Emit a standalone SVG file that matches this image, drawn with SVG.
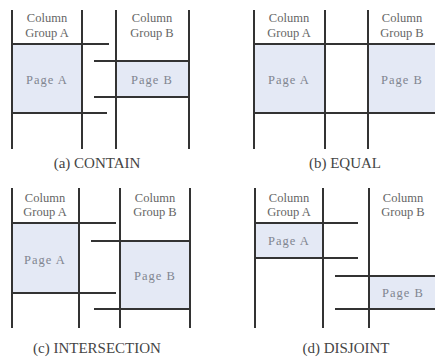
<svg xmlns="http://www.w3.org/2000/svg" width="435" height="361" viewBox="0 0 435 361">
<style>
.ln{stroke:#333;stroke-width:2;fill:none}
.pg{fill:#e4e9f5}
.hd{font-family:'Liberation Serif','Times New Roman',serif;font-size:12.5px;fill:#666;text-anchor:middle}
.pt{font-family:'Liberation Serif','Times New Roman',serif;font-size:12.5px;fill:#808590;text-anchor:middle;letter-spacing:1px}
.cap{font-family:'Liberation Serif','Times New Roman',serif;font-size:15px;fill:#444;text-anchor:middle}
</style>
<rect width="435" height="361" fill="#fff"/>
<g id="panel-a">
<g id="a-pageA"><rect class="pg" x="12" y="44" width="70" height="69"/><text class="pt" x="47" y="84">Page  A</text></g>
<g id="a-pageB"><rect class="pg" x="116" y="61" width="73" height="36"/><text class="pt" x="152" y="84">Page  B</text></g>
<g id="a-groupA"><text class="hd" x="47" y="22">Column</text><text class="hd" x="47" y="37">Group A</text></g>
<g id="a-groupB"><text class="hd" x="152" y="22">Column</text><text class="hd" x="152" y="37">Group B</text></g>
<g id="a-lines">
<path class="ln" d="M12 10V149M82 10V149M116 10V149M189 10V149M12 44H109M94 61H189M94 97H189M12 113H107"/>
</g>
<text class="cap" x="97" y="168">(a) CONTAIN</text>
</g>
<g id="panel-b">
<g id="b-pageA"><rect class="pg" x="254" y="44" width="71" height="69"/><text class="pt" x="289" y="84">Page  A</text></g>
<g id="b-pageB"><rect class="pg" x="368" y="44" width="67" height="69"/><text class="pt" x="402" y="84">Page  B</text></g>
<g id="b-groupA"><text class="hd" x="289" y="22">Column</text><text class="hd" x="289" y="37">Group A</text></g>
<g id="b-groupB"><text class="hd" x="402" y="22">Column</text><text class="hd" x="402" y="37">Group B</text></g>
<g id="b-lines">
<path class="ln" d="M254 10V149M325 10V149M368 10V149M254 44H435M254 113H435"/>
</g>
<text class="cap" x="345" y="168">(b) EQUAL</text>
</g>
<g id="panel-c">
<g id="c-pageA"><rect class="pg" x="12" y="223" width="67" height="70"/><text class="pt" x="45" y="264">Page  A</text></g>
<g id="c-pageB"><rect class="pg" x="120" y="241" width="70" height="68"/><text class="pt" x="155" y="280">Page  B</text></g>
<g id="c-groupA"><text class="hd" x="45" y="202">Column</text><text class="hd" x="45" y="216">Group A</text></g>
<g id="c-groupB"><text class="hd" x="155" y="202">Column</text><text class="hd" x="155" y="216">Group B</text></g>
<g id="c-lines">
<path class="ln" d="M12 188V328M79 188V328M120 188V328M190 188V328M12 223H116M91 241H190M12 293H116M94 309H190"/>
</g>
<text class="cap" x="97" y="353">(c) INTERSECTION</text>
</g>
<g id="panel-d">
<g id="d-pageA"><rect class="pg" x="255" y="223" width="68" height="35"/><text class="pt" x="289" y="245">Page  A</text></g>
<g id="d-pageB"><rect class="pg" x="369" y="276" width="66" height="33"/><text class="pt" x="403" y="297">Page  B</text></g>
<g id="d-groupA"><text class="hd" x="289" y="202">Column</text><text class="hd" x="289" y="216">Group A</text></g>
<g id="d-groupB"><text class="hd" x="403" y="202">Column</text><text class="hd" x="403" y="216">Group B</text></g>
<g id="d-lines">
<path class="ln" d="M255 188V328M323 188V328M369 188V328M255 223H358M255 258H358M335 276H435M335 309H435"/>
</g>
<text class="cap" x="346" y="353">(d) DISJOINT</text>
</g>
</svg>
